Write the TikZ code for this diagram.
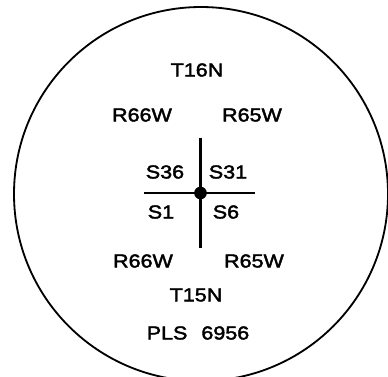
\documentclass[tikz,border=0pt]{standalone}
\usepackage{fontspec}
\setmainfont{Liberation Sans}[FakeStretch=1.15,FakeBold=2.2]
\usetikzlibrary{positioning}

\begin{document}
\begin{tikzpicture}[x=0.025cm,y=-0.025cm,
  lbl/.style={inner sep=0pt,font=\fontsize{13.3}{15}\selectfont},
  line width=1.3pt]
\useasboundingbox (0,0) rectangle (388,376);
\draw (201,194) circle (187);
% cross at the section corner
\node[circle,fill,inner sep=0pt,minimum size=9pt] (ctr) at (200.5,193) {};
\coordinate (n) at (200.5,138);
\coordinate (s) at (200.5,248);
\coordinate (w) at (144,193);
\coordinate (e) at (255,193);
\draw[line width=1.6pt] (n)--(s);
\draw[line width=1.6pt] (w)--(e);
% labels
\node[lbl] (t16) at (197,70) {T16N};
\node[lbl] (r66a) at (142,115) {R66W};
\node[lbl] (r65a) at (252,115) {R65W};
\node[lbl] (s36) at (165,172) {S36};
\node[lbl] (s31) at (228,172) {S31};
\node[lbl] (s1) at (161,212) {S1};
\node[lbl] (s6) at (226,212) {S6};
\node[lbl] (r66b) at (143,261) {R66W};
\node[lbl] (r65b) at (254,261) {R65W};
\node[lbl] (t15) at (196,295) {T15N};
\node[lbl] (pls) at (198,333) {PLS\hspace{0.75em}6956};
\end{tikzpicture}
\end{document}
